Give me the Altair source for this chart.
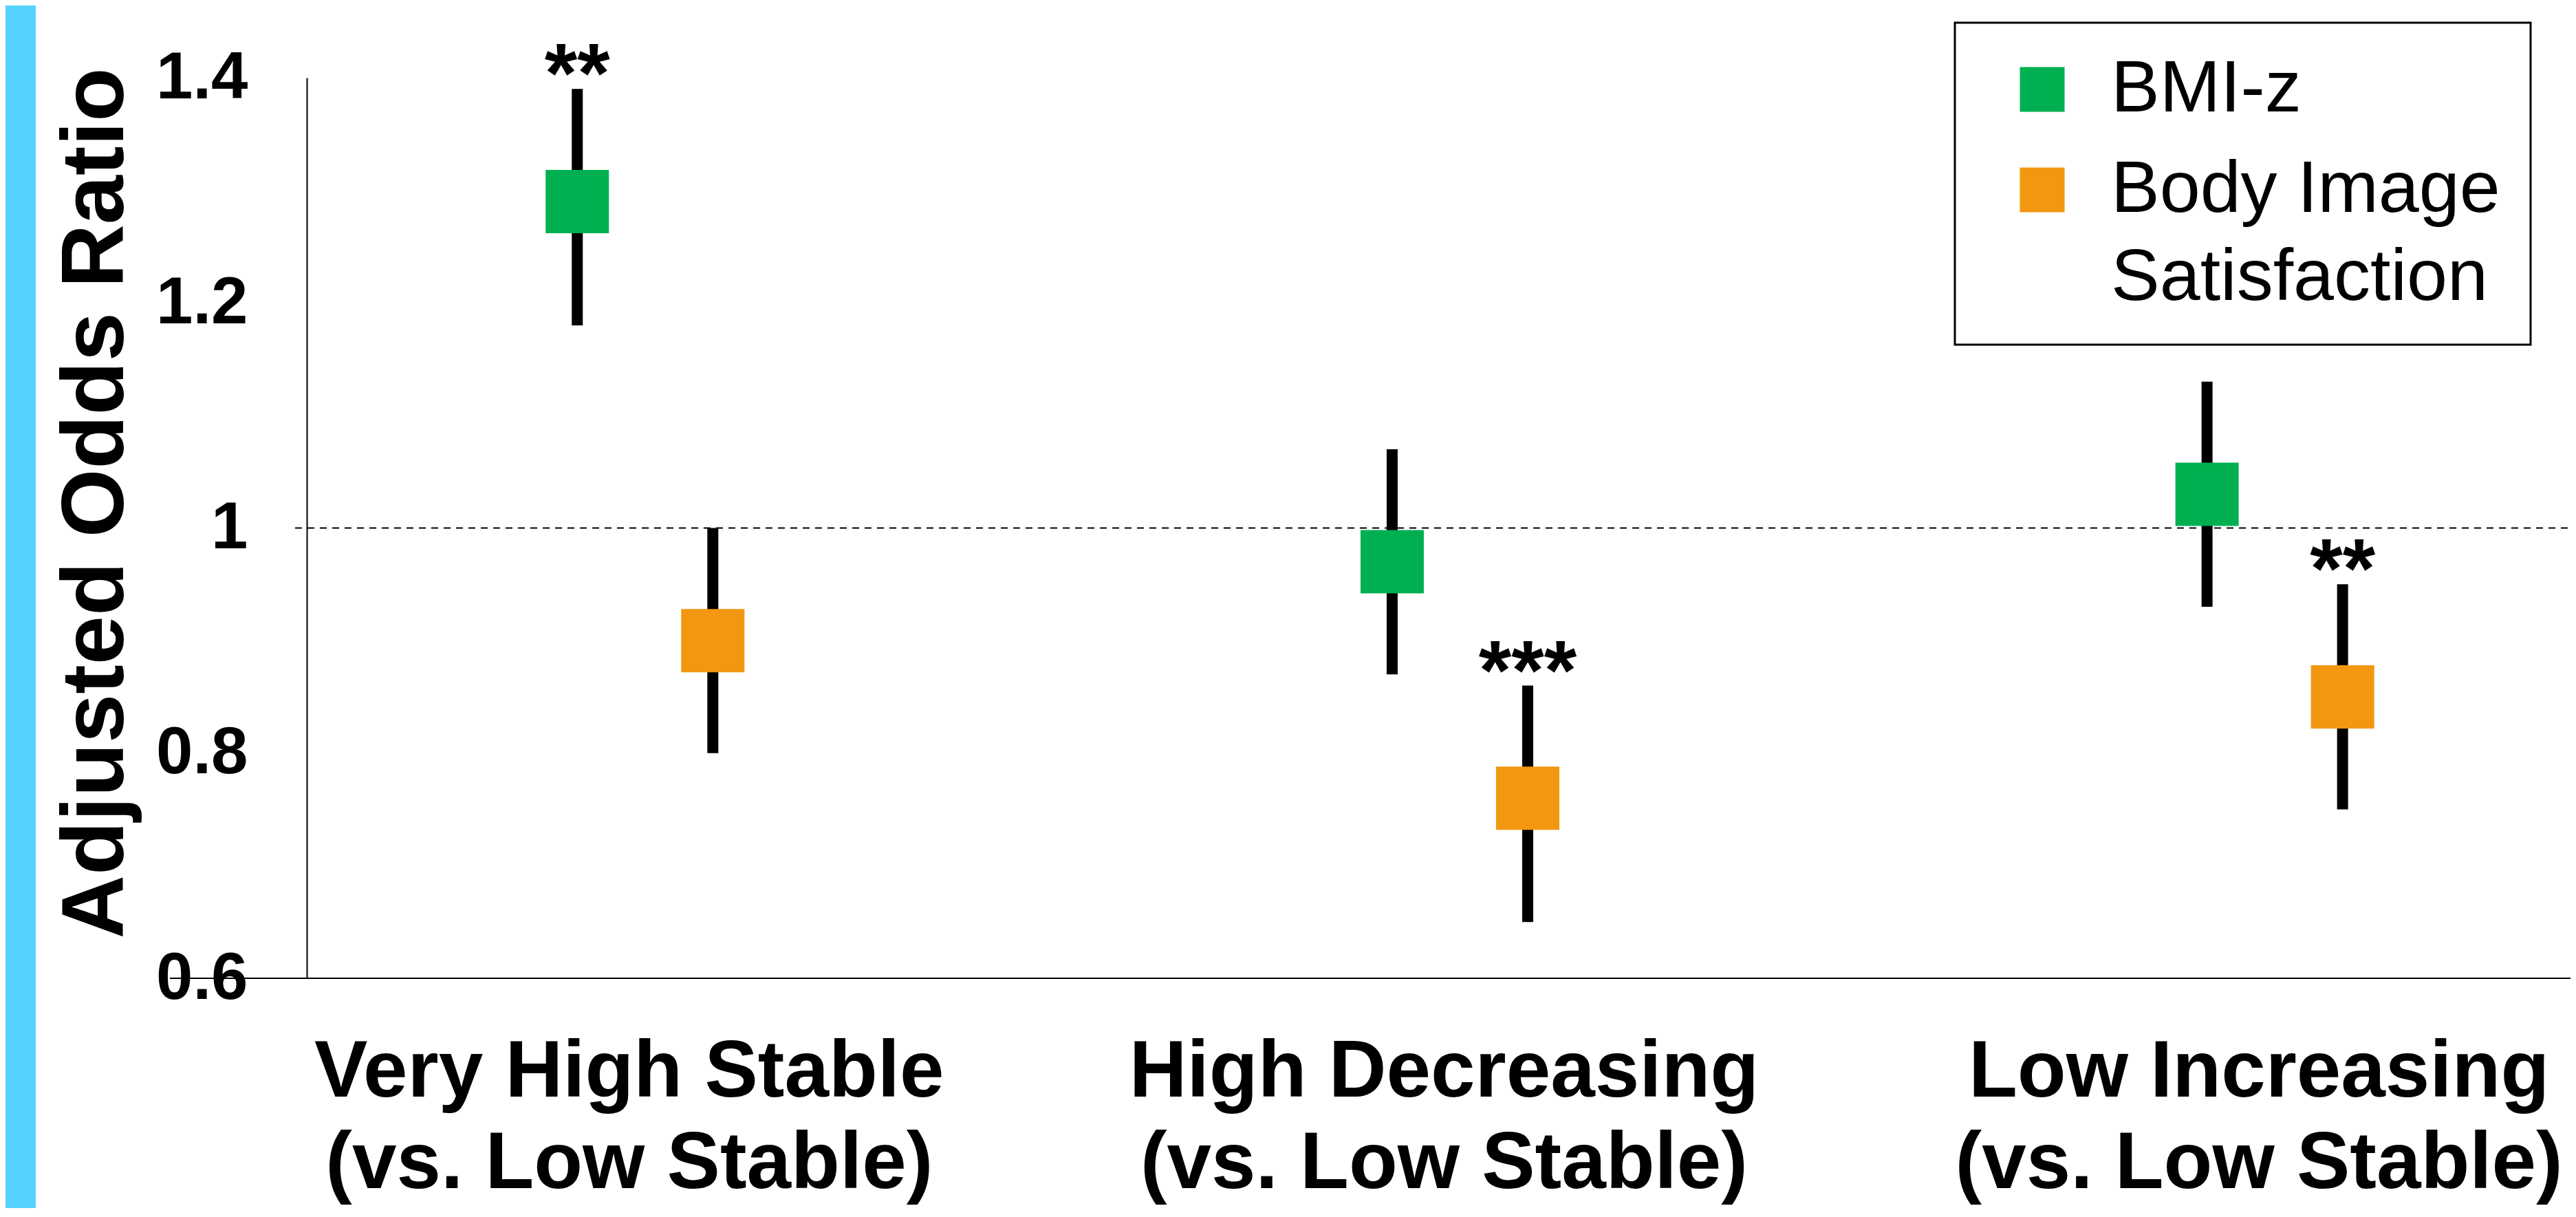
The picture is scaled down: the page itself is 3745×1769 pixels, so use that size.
import altair as alt
import pandas as pd

FONT = "Liberation Sans"
NBSP = "\u00a0"

# ---- data ----
categories = [
    "Very High Stable (vs. Low Stable)",
    "High Decreasing (vs. Low Stable)",
    "Low Increasing (vs. Low Stable)",
]
series = ["BMI-z", "Body Image Satisfaction"]

bmi_or = [1.29, 0.97, 1.03]
bmi_lo = [1.18, 0.87, 0.93]
bmi_hi = [1.39, 1.07, 1.13]
bmi_sig = ["**", "", ""]

body_or = [0.90, 0.76, 0.85]
body_lo = [0.80, 0.65, 0.75]
body_hi = [1.00, 0.86, 0.95]
body_sig = ["", "***", "**"]

y_ticks = [0.6, 0.8, 1.0, 1.2, 1.4]
y_min, y_max = 0.6, 1.4
reference_or = 1.0
colors = ["#00B050", "#F39711"]

rows = []
for i, c in enumerate(categories):
    rows.append(dict(category=c, series=series[0], est=bmi_or[i], lo=bmi_lo[i], hi=bmi_hi[i], sig=bmi_sig[i]))
    rows.append(dict(category=c, series=series[1], est=body_or[i], lo=body_lo[i], hi=body_hi[i], sig=body_sig[i]))
df = pd.DataFrame(rows)

W, H = 3291, 1309

y_scale = alt.Scale(domain=[y_min, y_max], nice=False, zero=False)
y_axis = alt.Axis(
    values=y_ticks, format="~g", grid=False, ticks=False, tickSize=0,
    domain=True, domainColor="black", domainWidth=2,
    labelFont=FONT, labelFontSize=96, labelFontWeight="bold", labelColor="black",
    labelPadding=86, labelFlush=False,
    title="Adjusted Odds Ratio", titleFont=FONT, titleFontSize=128,
    titleFontWeight="bold", titleColor="black",
    titleX=-268, titleY=618, titleAlign="center", titleBaseline="alphabetic",
)

x_enc = alt.X(
    "category:N", sort=categories,
    scale=alt.Scale(type="band", paddingInner=0.5, paddingOuter=0.139, align=0.594),
    axis=alt.Axis(
        title=None, domain=False, ticks=False, grid=False, labelAngle=0,
        labelFont=FONT, labelFontSize=116, labelFontWeight="bold", labelColor="black",
        labelPadding=79, labelLineHeight=133, labelLimit=3000, labelOffset=-23,
        labelExpr="split(replace(datum.label, ' (', '\\n('), '\\n')",
    ),
)
xoff_enc = alt.XOffset("series:N", sort=series,
                       scale=alt.Scale(paddingInner=0, paddingOuter=0.503))

one = alt.Data(values=[{}])

stripe = alt.Chart(one).mark_rect(color="#56D2FE").encode(
    x=alt.value(-438), x2=alt.value(-394), y=alt.value(-105), y2=alt.value(1643)
)

baseline = alt.Chart(one).mark_rule(color="black", strokeWidth=2).encode(
    y=alt.YDatum(y_min, scale=y_scale, axis=y_axis),
    x=alt.value(-199), x2=alt.value(W),
)

refline = alt.Chart(one).mark_rule(color="black", strokeWidth=2, strokeDash=[10, 8]).encode(
    y=alt.YDatum(reference_or, scale=y_scale, axis=y_axis),
    x=alt.value(-17), x2=alt.value(W),
)

base = alt.Chart(df)

errors = base.mark_rule(color="black", strokeWidth=16, strokeCap="butt").encode(
    x=x_enc, xOffset=xoff_enc,
    y=alt.Y("lo:Q", scale=y_scale, axis=y_axis),
    y2="hi:Q",
)

legend_label_expr = (
    "datum.label == 'Body Image Satisfaction' ? ['Body Image"
    + NBSP * 3
    + "', 'Satisfaction'] : datum.label"
)

squares = base.mark_square(size=8464, opacity=1, filled=True, strokeWidth=0).encode(
    x=x_enc, xOffset=xoff_enc,
    y=alt.Y("est:Q", scale=y_scale, axis=y_axis),
    color=alt.Color(
        "series:N", sort=series,
        scale=alt.Scale(domain=series, range=colors),
        legend=alt.Legend(
            title=None, orient="none", legendX=2396, legendY=-80,
            symbolType="square", symbolSize=4225, symbolStrokeWidth=0, symbolOpacity=1,
            symbolOffset=30, labelOffset=47,
            labelFont=FONT, labelFontSize=106, labelColor="black",
            labelLimit=1500,
            labelExpr=legend_label_expr,
            padding=44, rowPadding=40,
            strokeColor="black", fillColor="white",
        ),
    ),
)

stars = base.mark_text(font=FONT, fontSize=122, fontWeight="bold", baseline="alphabetic",
                       align="center", dy=19, color="black").encode(
    x=x_enc, xOffset=xoff_enc,
    y=alt.Y("hi:Q", scale=y_scale, axis=y_axis),
    text="sig:N",
)

chart = (
    alt.layer(stripe, baseline, refline, errors, squares, stars)
    .properties(
        width=W, height=H,
        autosize=alt.AutoSizeParams(type="none"),
        padding={"left": 438, "top": 105, "right": 0, "bottom": 334},
        background="white",
    )
    .configure(style={"guide-label": {"lineHeight": 128}})
    .configure_view(strokeWidth=0)
    .configure_legend(strokeWidth=3)
)

chart.save("out.html", embed_options={"renderer": "svg", "actions": False})
